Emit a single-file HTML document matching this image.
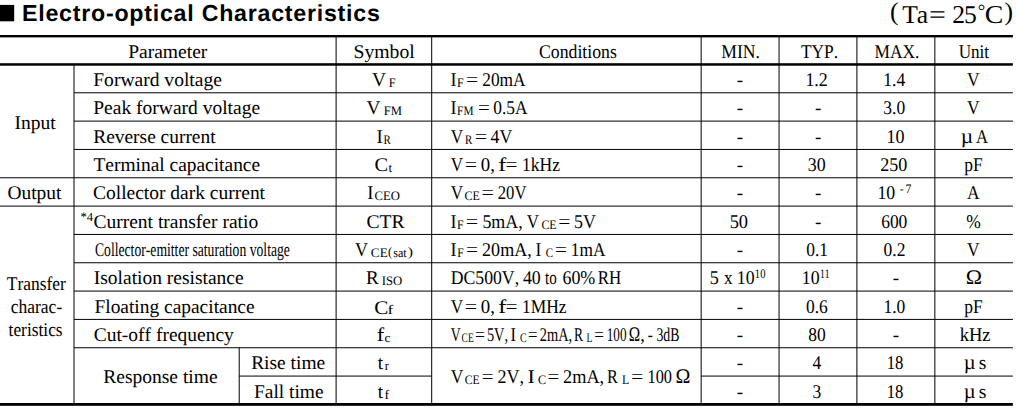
<!DOCTYPE html>
<html><head><meta charset="utf-8"><title>Electro-optical Characteristics</title>
<style>
html,body{margin:0;padding:0;background:#fff;}
body{width:1016px;height:410px;overflow:hidden;font-family:"Liberation Serif",serif;}
svg{display:block;position:absolute;left:0;top:0;}
text{font-family:"Liberation Serif",serif;fill:#000;white-space:pre;text-rendering:geometricPrecision;font-kerning:none;font-variant-ligatures:none;}
text.b{font-family:"Liberation Sans",sans-serif;font-weight:bold;}
</style></head><body>
<svg width="1016" height="410" viewBox="0 0 1016 410">
<rect x="0" y="0" width="1016" height="410" fill="#fff"/>
<g>
<rect x="0.00" y="35.00" width="1012.90" height="2.40" fill="#000"/>
<rect x="0.00" y="63.20" width="1012.90" height="2.50" fill="#000"/>
<rect x="0.00" y="403.00" width="1012.90" height="2.80" fill="#000"/>
<rect x="74.00" y="92.28" width="938.90" height="1.00" fill="#000"/>
<rect x="74.00" y="120.61" width="938.90" height="1.00" fill="#000"/>
<rect x="74.00" y="148.94" width="938.90" height="1.00" fill="#000"/>
<rect x="0.00" y="177.27" width="1012.90" height="1.00" fill="#000"/>
<rect x="0.00" y="205.60" width="1012.90" height="1.00" fill="#000"/>
<rect x="74.00" y="233.93" width="938.90" height="1.00" fill="#000"/>
<rect x="74.00" y="262.25" width="938.90" height="1.00" fill="#000"/>
<rect x="74.00" y="290.58" width="938.90" height="1.00" fill="#000"/>
<rect x="74.00" y="318.91" width="938.90" height="1.00" fill="#000"/>
<rect x="74.00" y="347.24" width="938.90" height="1.00" fill="#000"/>
<rect x="239.20" y="375.57" width="192.50" height="1.00" fill="#000"/>
<rect x="701.15" y="375.57" width="311.75" height="1.00" fill="#000"/>
<rect x="73.50" y="64.45" width="1.00" height="339.95" fill="#000"/>
<rect x="335.60" y="36.20" width="1.00" height="368.20" fill="#000"/>
<rect x="431.20" y="36.20" width="1.00" height="368.20" fill="#000"/>
<rect x="700.65" y="36.20" width="1.00" height="368.20" fill="#000"/>
<rect x="778.55" y="36.20" width="1.00" height="368.20" fill="#000"/>
<rect x="856.40" y="36.20" width="1.00" height="368.20" fill="#000"/>
<rect x="934.35" y="36.20" width="1.00" height="368.20" fill="#000"/>
<rect x="238.70" y="347.74" width="1.00" height="56.66" fill="#000"/>
<rect x="-2" y="4.9" width="16.2" height="16.4" fill="#000"/>
</g>
<g>
<text class="b" font-size="23.20" letter-spacing="0.756" x="22.05" y="21.00">Electro-optical Characteristics</text>
<text font-size="25.60" transform="translate(890.08 19.60) scale(1.0000 1)">(</text>
<text font-size="25.60" letter-spacing="-1.087" x="902.29" y="22.60">Ta</text>
<text font-size="25.60" transform="translate(929.06 22.60) scale(1.1668 1)">=</text>
<text font-size="25.60" letter-spacing="-1.075" x="952.27" y="22.60">25</text>
<text font-size="18.80" transform="translate(977.80 17.00) scale(1.0000 1)">°</text>
<text font-size="25.60" transform="translate(984.86 22.60) scale(1.0881 1)">C</text>
<text font-size="25.60" transform="translate(1004.45 19.60) scale(1.0000 1)">)</text>
<text font-size="19.40" transform="translate(128.14 57.80) scale(1.0077 1)">Parameter</text>
<text font-size="19.40" transform="translate(353.48 57.80) scale(1.0156 1)">Symbol</text>
<text font-size="19.40" transform="translate(539.02 57.80) scale(0.9144 1)">Conditions</text>
<text font-size="19.40" transform="translate(721.24 57.80) scale(0.9084 1)">MIN.</text>
<text font-size="19.40" transform="translate(800.94 57.80) scale(0.8967 1)">TYP.</text>
<text font-size="19.40" transform="translate(874.50 57.80) scale(0.8958 1)">MAX.</text>
<text font-size="19.40" transform="translate(958.64 57.80) scale(0.8832 1)">Unit</text>
<text font-size="19.40" transform="translate(14.39 129.00) scale(1.0066 1)">Input</text>
<text font-size="19.40" transform="translate(7.45 199.00) scale(1.0004 1)">Output</text>
<text font-size="19.40" transform="translate(6.78 290.00) scale(0.8990 1)">Transfer</text>
<text font-size="19.40" transform="translate(10.73 313.00) scale(0.9025 1)">charac-</text>
<text font-size="19.40" transform="translate(8.58 336.00) scale(0.8957 1)">teristics</text>
<text font-size="19.40" transform="translate(93.24 86.00) scale(1.0083 1)">Forward voltage</text>
<text font-size="19.40" transform="translate(93.24 114.00) scale(1.0062 1)">Peak forward voltage</text>
<text font-size="19.40" transform="translate(93.24 143.00) scale(1.0009 1)">Reverse current</text>
<text font-size="19.40" transform="translate(93.45 171.00) scale(1.0019 1)">Terminal capacitance</text>
<text font-size="19.40" transform="translate(93.00 199.00) scale(1.0048 1)">Collector dark current</text>
<text font-size="13.00" transform="translate(80.39 221.00) scale(0.9632 1)">*</text>
<text font-size="12.30" transform="translate(86.85 221.00) scale(1.0319 1)">4</text>
<text font-size="19.40" transform="translate(93.40 228.00) scale(1.0067 1)">Current transfer ratio</text>
<text font-size="19.40" transform="translate(94.94 256.00) scale(0.7044 1)">Collector-emitter saturation voltage</text>
<text font-size="19.40" transform="translate(93.80 284.00) scale(1.0044 1)">Isolation resistance</text>
<text font-size="19.40" transform="translate(94.44 313.00) scale(1.0016 1)">Floating capacitance</text>
<text font-size="19.40" transform="translate(93.70 341.00) scale(1.0047 1)">Cut-off frequency</text>
<text font-size="19.40" transform="translate(103.19 382.50) scale(1.0070 1)">Response time</text>
<text font-size="19.40" transform="translate(251.14 369.00) scale(1.0029 1)">Rise time</text>
<text font-size="19.40" transform="translate(253.94 398.00) scale(1.0032 1)">Fall time</text>
<text font-size="19.40" transform="translate(371.98 86.00) scale(1.0019 1)">V</text>
<text font-size="13.00" transform="translate(388.64 87.00) scale(0.9553 1)">F</text>
<text font-size="19.40" transform="translate(366.38 114.00) scale(0.9945 1)">V</text>
<text font-size="13.00" transform="translate(383.84 115.00) scale(0.9704 1)">FM</text>
<text font-size="19.40" transform="translate(376.42 143.00) scale(0.9651 1)">I</text>
<text font-size="13.00" transform="translate(383.48 144.00) scale(0.8457 1)">R</text>
<text font-size="19.40" transform="translate(374.51 171.00) scale(1.0521 1)">C</text>
<text font-size="13.00" transform="translate(388.47 172.00) scale(0.9975 1)">t</text>
<text font-size="19.40" transform="translate(367.18 199.00) scale(0.9552 1)">I</text>
<text font-size="13.00" transform="translate(374.48 200.00) scale(0.9746 1)">CEO</text>
<text font-size="19.40" transform="translate(366.40 228.00) scale(1.0107 1)">CTR</text>
<text font-size="19.40" transform="translate(355.10 256.00) scale(0.9282 1)">V</text>
<text font-size="13.00" transform="translate(370.86 257.00) scale(1.0142 1)">CE</text>
<text font-size="13.00" transform="translate(388.00 256.00) scale(0.9584 1)">(</text>
<text font-size="13.00" transform="translate(393.30 257.00) scale(0.9290 1)">sat</text>
<text font-size="13.00" transform="translate(407.64 256.00) scale(1.2130 1)">)</text>
<text font-size="19.40" transform="translate(365.95 284.00) scale(0.9796 1)">R</text>
<text font-size="13.00" transform="translate(381.74 285.00) scale(0.9777 1)">ISO</text>
<text font-size="19.40" transform="translate(374.23 314.00) scale(1.0927 1)">C</text>
<text font-size="13.00" transform="translate(387.42 314.40) scale(1.3362 1)">f</text>
<text font-size="19.40" transform="translate(376.81 341.00) scale(1.1512 1)">f</text>
<text font-size="13.00" transform="translate(384.49 342.00) scale(1.0256 1)">c</text>
<text font-size="19.40" transform="translate(377.81 369.00) scale(0.9829 1)">t</text>
<text font-size="13.00" transform="translate(384.75 370.00) scale(0.9483 1)">r</text>
<text font-size="19.40" transform="translate(377.81 398.00) scale(0.9829 1)">t</text>
<text font-size="13.00" transform="translate(384.57 399.00) scale(1.0816 1)">f</text>
<text font-size="19.40" transform="translate(450.50 86.00) scale(0.9257 1)">I</text>
<text font-size="13.00" transform="translate(457.10 87.00) scale(0.9239 1)">F</text>
<text font-size="19.40" transform="translate(466.03 86.00) scale(1.1077 1)">=</text>
<text font-size="19.40" transform="translate(482.24 86.00) scale(0.8936 1)">20mA</text>
<text font-size="19.40" transform="translate(450.50 114.00) scale(0.9257 1)">I</text>
<text font-size="13.00" transform="translate(457.12 115.00) scale(0.8678 1)">FM</text>
<text font-size="19.40" transform="translate(477.95 114.00) scale(1.0856 1)">=</text>
<text font-size="19.40" transform="translate(493.34 114.00) scale(0.8962 1)">0.5A</text>
<text font-size="19.40" transform="translate(450.81 143.00) scale(0.8803 1)">V</text>
<text font-size="13.00" transform="translate(464.99 144.00) scale(0.8396 1)">R</text>
<text font-size="19.40" transform="translate(474.85 143.00) scale(1.1354 1)">=</text>
<text font-size="19.40" transform="translate(490.55 143.00) scale(0.9107 1)">4V</text>
<text font-size="19.40" transform="translate(450.81 171.00) scale(0.8803 1)">V</text>
<text font-size="19.40" transform="translate(464.85 171.00) scale(1.1354 1)">=</text>
<text font-size="19.40" transform="translate(480.73 171.00) scale(0.9691 1)">0,</text>
<text font-size="19.40" transform="translate(498.26 171.00) scale(1.2364 1)">f</text>
<text font-size="19.40" transform="translate(505.60 171.00) scale(1.0911 1)">=</text>
<text font-size="19.40" transform="translate(522.06 171.00) scale(0.9051 1)">1kHz</text>
<text font-size="19.40" transform="translate(450.81 199.00) scale(0.8803 1)">V</text>
<text font-size="13.00" transform="translate(464.46 200.00) scale(0.9170 1)">CE</text>
<text font-size="19.40" transform="translate(481.55 199.00) scale(1.1354 1)">=</text>
<text font-size="19.40" transform="translate(497.66 199.00) scale(0.8627 1)">20V</text>
<text font-size="19.40" transform="translate(450.50 228.00) scale(0.9257 1)">I</text>
<text font-size="13.00" transform="translate(457.10 229.00) scale(0.9239 1)">F</text>
<text font-size="19.40" transform="translate(465.80 228.00) scale(1.1354 1)">=</text>
<text font-size="19.40" transform="translate(482.41 228.00) scale(0.9237 1)">5mA,</text>
<text font-size="19.40" transform="translate(526.76 228.00) scale(0.8693 1)">V</text>
<text font-size="13.00" transform="translate(541.41 229.00) scale(0.9170 1)">CE</text>
<text font-size="19.40" transform="translate(558.13 228.00) scale(1.1077 1)">=</text>
<text font-size="19.40" transform="translate(574.06 228.00) scale(0.9233 1)">5V</text>
<text font-size="19.40" transform="translate(450.50 256.00) scale(0.9257 1)">I</text>
<text font-size="13.00" transform="translate(457.27 257.00) scale(0.8926 1)">F</text>
<text font-size="19.40" transform="translate(466.04 256.00) scale(1.1022 1)">=</text>
<text font-size="19.40" transform="translate(482.11 256.00) scale(0.9293 1)">20mA,</text>
<text font-size="19.40" transform="translate(535.42 256.00) scale(0.8961 1)">I</text>
<text font-size="13.00" transform="translate(545.85 257.00) scale(0.8490 1)">C</text>
<text font-size="19.40" transform="translate(555.10 256.00) scale(1.0911 1)">=</text>
<text font-size="19.40" transform="translate(570.78 256.00) scale(0.8930 1)">1mA</text>
<text font-size="19.40" transform="translate(450.69 284.00) scale(0.9135 1)">DC500V,</text>
<text font-size="19.40" transform="translate(522.95 284.00) scale(0.9189 1)">40</text>
<text font-size="19.40" transform="translate(544.95 284.00) scale(0.7767 1)">to</text>
<text font-size="19.40" transform="translate(562.43 284.00) scale(0.9247 1)">60%</text>
<text font-size="19.40" transform="translate(597.76 284.00) scale(0.8713 1)">RH</text>
<text font-size="19.40" transform="translate(450.81 313.00) scale(0.8803 1)">V</text>
<text font-size="19.40" transform="translate(464.85 313.00) scale(1.1354 1)">=</text>
<text font-size="19.40" transform="translate(480.73 313.00) scale(0.9691 1)">0,</text>
<text font-size="19.40" transform="translate(498.26 313.00) scale(1.2364 1)">f</text>
<text font-size="19.40" transform="translate(505.60 313.00) scale(1.0911 1)">=</text>
<text font-size="19.40" transform="translate(522.07 313.00) scale(0.8980 1)">1MHz</text>
<text font-size="19.40" transform="translate(450.85 341.00) scale(0.7072 1)">V</text>
<text font-size="13.00" transform="translate(461.61 342.00) scale(0.7258 1)">CE</text>
<text font-size="19.40" transform="translate(475.12 341.00) scale(0.9083 1)">=</text>
<text font-size="19.40" transform="translate(486.91 341.00) scale(0.7421 1)">5V,</text>
<text font-size="19.40" transform="translate(510.41 341.00) scale(0.8469 1)">I</text>
<text font-size="13.00" transform="translate(520.04 342.00) scale(0.7614 1)">C</text>
<text font-size="19.40" transform="translate(528.06 341.00) scale(0.8696 1)">=</text>
<text font-size="19.40" transform="translate(539.77 341.00) scale(0.7420 1)">2mA,</text>
<text font-size="19.40" transform="translate(574.01 341.00) scale(0.7003 1)">R</text>
<text font-size="13.00" transform="translate(586.57 342.00) scale(0.7442 1)">L</text>
<text font-size="19.40" transform="translate(594.14 341.00) scale(0.8862 1)">=</text>
<text font-size="19.40" transform="translate(606.69 341.00) scale(0.6809 1)">100</text>
<text font-size="20.60" transform="translate(628.76 341.00) scale(0.7437 1)">Ω</text>
<text font-size="19.40" transform="translate(640.25 341.00) scale(0.9518 1)">,</text>
<text font-size="19.40" transform="translate(647.64 341.00) scale(0.7739 1)">-</text>
<text font-size="19.40" transform="translate(656.44 341.00) scale(0.7107 1)">3dB</text>
<text font-size="19.40" transform="translate(450.80 382.60) scale(0.8988 1)">V</text>
<text font-size="13.00" transform="translate(464.72 383.60) scale(0.8943 1)">CE</text>
<text font-size="19.40" transform="translate(481.71 382.60) scale(1.0745 1)">=</text>
<text font-size="19.40" transform="translate(497.46 382.60) scale(0.9307 1)">2V,</text>
<text font-size="19.40" transform="translate(527.41 382.60) scale(1.1325 1)">I</text>
<text font-size="13.00" transform="translate(537.90 383.60) scale(0.9366 1)">C</text>
<text font-size="19.40" transform="translate(547.61 382.60) scale(1.0745 1)">=</text>
<text font-size="19.40" transform="translate(563.05 382.60) scale(0.9417 1)">2mA,</text>
<text font-size="19.40" transform="translate(607.08 382.60) scale(0.8338 1)">R</text>
<text font-size="13.00" transform="translate(621.96 383.60) scale(0.9137 1)">L</text>
<text font-size="19.40" transform="translate(631.29 382.60) scale(1.0967 1)">=</text>
<text font-size="19.40" transform="translate(647.46 382.60) scale(0.8422 1)">100</text>
<text font-size="20.60" transform="translate(675.41 382.60) scale(0.9714 1)">Ω</text>
<text font-size="19.40" transform="translate(736.83 86.00) scale(0.9800 1)">-</text>
<text font-size="19.40" transform="translate(736.83 114.00) scale(0.9800 1)">-</text>
<text font-size="19.40" transform="translate(736.83 143.00) scale(0.9800 1)">-</text>
<text font-size="19.40" transform="translate(736.83 171.00) scale(0.9800 1)">-</text>
<text font-size="19.40" transform="translate(736.83 199.00) scale(0.9800 1)">-</text>
<text font-size="19.40" transform="translate(736.83 256.00) scale(0.9800 1)">-</text>
<text font-size="19.40" transform="translate(736.83 313.00) scale(0.9800 1)">-</text>
<text font-size="19.40" transform="translate(736.83 341.00) scale(0.9800 1)">-</text>
<text font-size="19.40" transform="translate(736.83 369.00) scale(0.9800 1)">-</text>
<text font-size="19.40" transform="translate(736.83 398.00) scale(0.9800 1)">-</text>
<text font-size="19.40" transform="translate(729.63 228.00) scale(0.9496 1)">50</text>
<text font-size="19.40" transform="translate(709.70 284.00) scale(0.9341 1)">5</text>
<text font-size="19.40" transform="translate(723.90 284.00) scale(0.8878 1)">x</text>
<text font-size="19.40" transform="translate(736.79 284.00) scale(0.9171 1)">10</text>
<text font-size="13.00" transform="translate(754.87 278.00) scale(0.8097 1)">10</text>
<text font-size="19.40" transform="translate(815.03 114.00) scale(0.9800 1)">-</text>
<text font-size="19.40" transform="translate(815.03 143.00) scale(0.9800 1)">-</text>
<text font-size="19.40" transform="translate(815.03 199.00) scale(0.9800 1)">-</text>
<text font-size="19.40" transform="translate(815.03 228.00) scale(0.9800 1)">-</text>
<text font-size="19.40" transform="translate(805.43 86.00) scale(0.9220 1)">1.2</text>
<text font-size="19.40" transform="translate(807.79 171.00) scale(0.9220 1)">30</text>
<text font-size="19.40" transform="translate(806.18 256.00) scale(0.9000 1)">0.1</text>
<text font-size="19.40" transform="translate(801.74 284.00) scale(0.9171 1)">10</text>
<text font-size="13.00" transform="translate(819.90 278.00) scale(0.7448 1)">11</text>
<text font-size="19.40" transform="translate(805.92 313.00) scale(0.9000 1)">0.6</text>
<text font-size="19.40" transform="translate(808.17 341.00) scale(0.9000 1)">80</text>
<text font-size="19.40" transform="translate(812.50 369.00) scale(0.9000 1)">4</text>
<text font-size="19.40" transform="translate(812.46 398.00) scale(0.9000 1)">3</text>
<text font-size="19.40" transform="translate(883.21 86.00) scale(0.9060 1)">1.4</text>
<text font-size="19.40" transform="translate(883.30 114.00) scale(0.9000 1)">3.0</text>
<text font-size="19.40" transform="translate(886.47 143.00) scale(0.9289 1)">10</text>
<text font-size="19.40" transform="translate(880.16 171.00) scale(0.9306 1)">250</text>
<text font-size="19.40" transform="translate(877.39 199.00) scale(0.9171 1)">10</text>
<text font-size="13.00" transform="translate(900.06 193.00) scale(0.8143 1)">-</text>
<text font-size="13.00" transform="translate(905.47 193.00) scale(0.9111 1)">7</text>
<text font-size="19.40" transform="translate(881.16 228.00) scale(0.9000 1)">600</text>
<text font-size="19.40" transform="translate(883.54 256.00) scale(0.9000 1)">0.2</text>
<text font-size="19.40" transform="translate(892.83 284.00) scale(0.9800 1)">-</text>
<text font-size="19.40" transform="translate(883.45 313.00) scale(0.9000 1)">1.0</text>
<text font-size="19.40" transform="translate(892.83 341.00) scale(0.9800 1)">-</text>
<text font-size="19.40" transform="translate(886.63 369.00) scale(0.8610 1)">18</text>
<text font-size="19.40" transform="translate(886.63 398.00) scale(0.8610 1)">18</text>
<text font-size="19.40" transform="translate(967.10 86.00) scale(0.9000 1)">V</text>
<text font-size="19.40" transform="translate(967.10 114.00) scale(0.9000 1)">V</text>
<text font-size="20.50" transform="translate(960.86 143.00) scale(1.0448 1)">µ</text>
<text font-size="19.40" transform="translate(975.89 143.00) scale(0.8590 1)">A</text>
<text font-size="19.40" transform="translate(964.35 171.00) scale(0.9000 1)">pF</text>
<text font-size="19.40" transform="translate(967.07 199.00) scale(0.9000 1)">A</text>
<text font-size="19.40" transform="translate(966.13 228.00) scale(0.9000 1)">%</text>
<text font-size="19.40" transform="translate(967.10 256.00) scale(0.9000 1)">V</text>
<text font-size="20.60" transform="translate(965.87 284.00) scale(1.0625 1)">Ω</text>
<text font-size="19.40" transform="translate(964.35 313.00) scale(0.9000 1)">pF</text>
<text font-size="19.40" transform="translate(959.65 341.00) scale(0.9551 1)">kHz</text>
<text font-size="20.50" transform="translate(963.79 369.00) scale(1.0019 1)">µ</text>
<text font-size="19.40" transform="translate(978.64 369.00) scale(1.0160 1)">s</text>
<text font-size="20.50" transform="translate(963.79 398.00) scale(1.0019 1)">µ</text>
<text font-size="19.40" transform="translate(978.64 398.00) scale(1.0160 1)">s</text>
</g>
</svg>
</body></html>
